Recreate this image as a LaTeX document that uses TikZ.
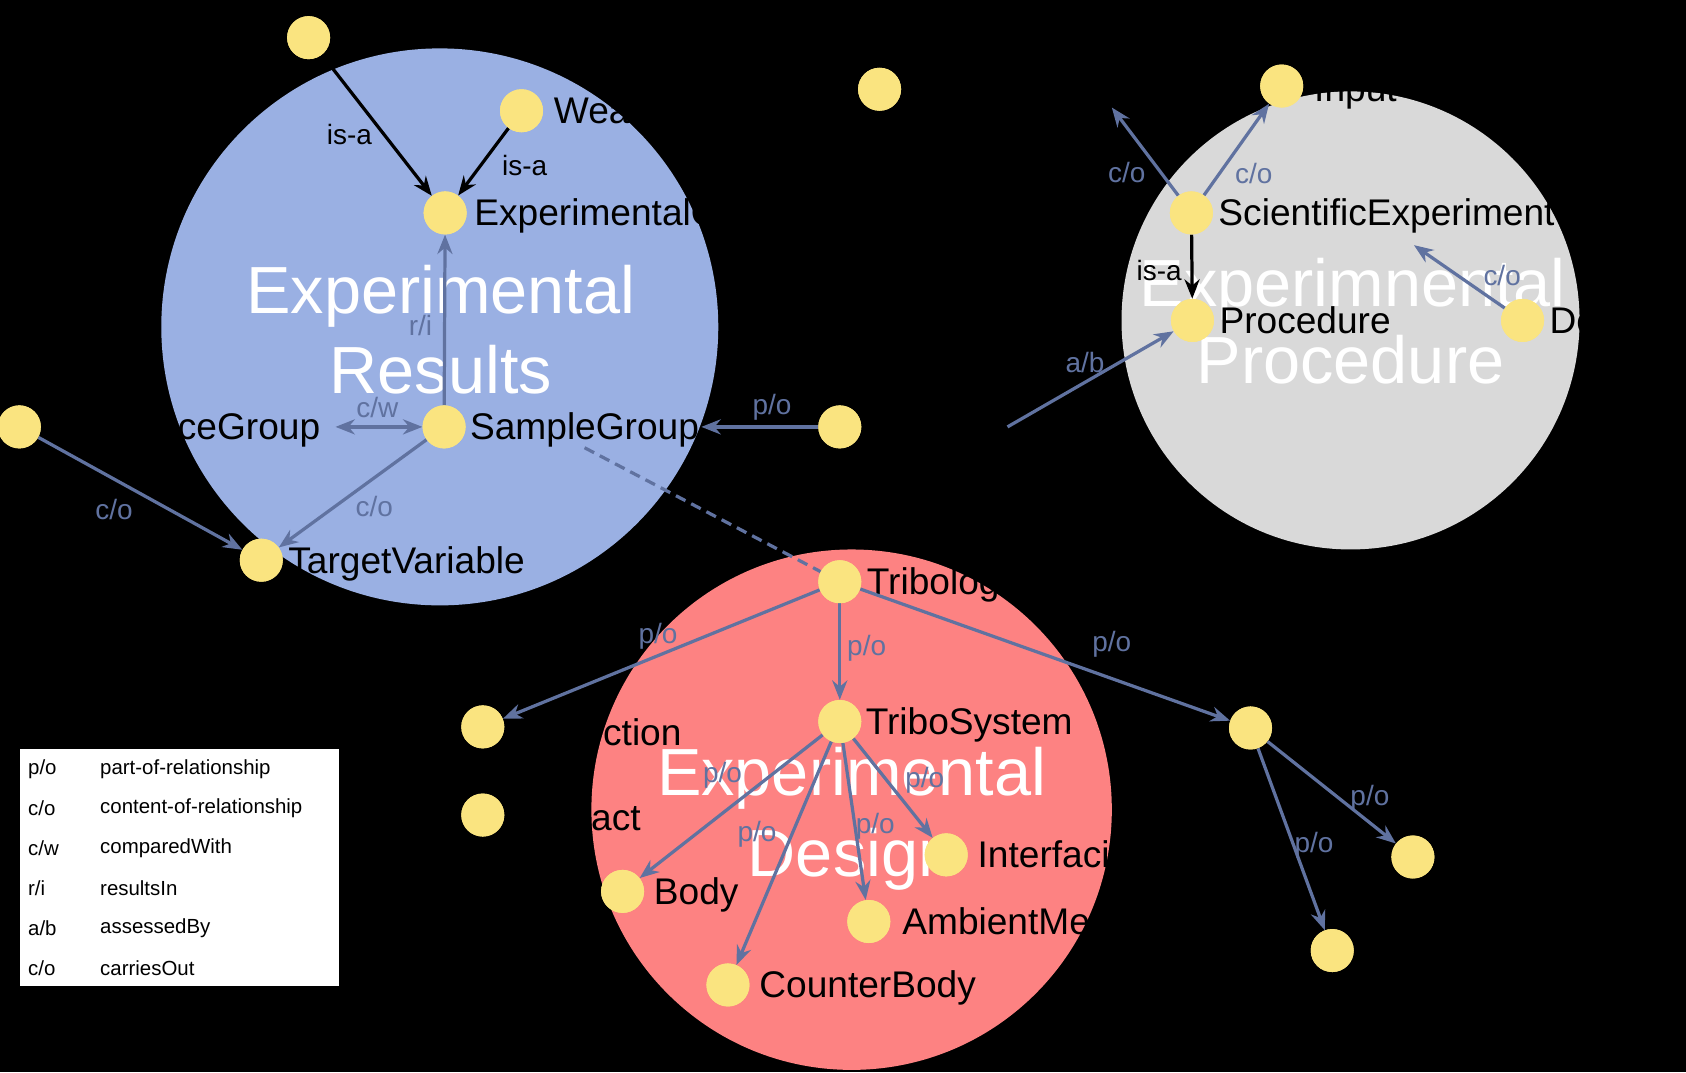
\documentclass[tikz,border=0pt]{standalone}
\usepackage{fontspec}
\setmainfont{Liberation Sans}
\usetikzlibrary{arrows.meta,calc}
\definecolor{cblue}{HTML}{9AB0E3}
\definecolor{cgray}{HTML}{D9D9D9}
\definecolor{cred}{HTML}{FD8282}
\definecolor{cyel}{HTML}{FAE480}
\definecolor{cedge}{HTML}{6072A0}
\tikzset{
  dot/.style={circle,fill=cyel,minimum size=40pt,inner sep=0pt},
  nlab/.style={font=\fontsize{34.5}{40}\selectfont,text=black,inner sep=0pt,anchor=base west},
  big/.style={font=\fontsize{62}{73}\selectfont,text=white,inner sep=0pt,anchor=base},
  rel/.style={draw=cedge,line width=3pt,-{Stealth[length=18pt,width=14pt]}},
  isarel/.style={draw=black,line width=3pt,-{Stealth[length=18pt,width=14pt]}},
  elab/.style={font=\fontsize{26}{30}\selectfont,text=cedge,inner sep=0pt},
  elabk/.style={font=\fontsize{26}{30}\selectfont,text=black,inner sep=0pt},
  legt/.style={font=\fontsize{19}{22}\selectfont,text=black,inner sep=0pt,anchor=west}
}
\begin{document}
\begin{tikzpicture}[x=1pt,y=-1pt]
\fill[black] (0,0) rectangle (1568,997);
\useasboundingbox (0,0) rectangle (1568,997);
% group circles
\fill[cblue] (409,304) circle [radius=259pt];
\fill[cgray] (1256,298) circle [radius=213pt];
\fill[cred] (792,753) circle [radius=242pt];
% big titles
\node[big] (bR1) at (410,292) {Experimental};
\node[big] (bR2) at (410,366) {Results};
\node[big] (bP1) at (1258,285) {Experimnental};
\node[big] (bP2) at (1256,357) {Procedure};
\node[big] (bD1) at (792,740) {Experimental};
\node[big] (bD2) at (792,815) {Design};
% nodes
\node[dot] (A) at (287,35) {};
\node[dot] (wr) at (485,103) {};
\node[dot] (eo) at (414,198) {};
\node[dot] (B) at (818,83) {};
\node[dot] (inp) at (1192,80) {};
\node[dot] (se) at (1108,198) {};
\node[dot] (proc) at (1109,298) {};
\node[dot] (de) at (1416,298) {};
\node[dot] (rg) at (18,397) {};
\node[dot] (sg) at (413,397) {};
\node[dot] (pn) at (781,397) {};
\node[dot] (tv) at (243,521) {};
\node[dot] (trib) at (781,541) {};
\node[dot] (nf) at (449,676) {};
\node[dot] (nc) at (449,758) {};
\node[dot] (ts) at (781,671) {};
\node[dot] (nr) at (1163,677) {};
\node[dot] (nr1) at (1314,797) {};
\node[dot] (nr2) at (1239,884) {};
\node[dot] (body) at (579,829) {};
\node[dot] (cb) at (677,916) {};
\node[dot] (amb) at (808,857) {};
\node[dot] (intf) at (880,795) {};
% node labels
\node[nlab] (wrL) at (515,115) {Wear};
\node[nlab] (eoL) at (441,210) {ExperimentalO};
\node[nlab] (inpL) at (1222,94) {Input};
\node[nlab] (seL) at (1133,210) {ScientificExperiment};
\node[nlab] (procL) at (1134,310) {Procedure};
\node[nlab] (deL) at (1441,310) {De};
\node[nlab,anchor=base east] (rgL) at (298,409) {ceGroup};
\node[nlab] (sgL) at (437,409) {SampleGroup};
\node[nlab] (tvL) at (268,533) {TargetVariable};
\node[nlab] (tribL) at (806,553) {Tribolog};
\node[nlab,anchor=base east] (nfL) at (634,693) {ction};
\node[nlab,anchor=base east] (ncL) at (596,772) {act};
\node[nlab] (tsL) at (805,683) {TriboSystem};
\node[nlab] (bodyL) at (608,841) {Body};
\node[nlab] (cbL) at (706,928) {CounterBody};
\node[nlab] (ambL) at (839,869) {AmbientMe};
\node[nlab] (intfL) at (909,807) {Interfaci};
% free ends
\coordinate (abS) at (937,397);
\coordinate (coE) at (1034,100);
\coordinate (seT) at (1315,228);
\coordinate (cwE) at ($(rgL.east |- sg)+(14,0)$);
\coordinate (poE) at ($(sgL.east |- sg)+(2,0)$);
% connectors
\draw[isarel,shorten <=16pt] (A) -- (eo);
\draw[isarel] (wr) -- (eo);
\draw[rel] (sg) -- (eo);
\draw[rel,{Stealth[length=18pt,width=14pt]}-{Stealth[length=18pt,width=14pt]}] (cwE) -- (sg);
\draw[rel] (sg) -- (tv);
\draw[rel] (rg) -- (tv);
\draw[rel] (pn) -- (poE);
\draw[draw=cedge,line width=3pt,dash pattern=on 10pt off 6pt] (sgL.south) -- (trib);
\draw[rel] (abS) -- (proc);
\draw[isarel] (se) -- (proc);
\draw[rel] (se) -- (inp);
\draw[rel] (se) -- (coE);
\draw[rel] (de) -- (seT);
\draw[rel] (trib) -- (nf);
\draw[rel] (trib) -- (ts);
\draw[rel] (trib) -- (nr);
\draw[rel] (nr) -- (nr1);
\draw[rel] (nr) -- (nr2);
\draw[rel] (ts) -- (body);
\draw[rel] (ts) -- (cb);
\draw[rel] (ts) -- (amb);
\draw[rel] (ts) -- (intf);
% redraw nodes over connectors
\foreach \n in {A,wr,eo,B,inp,se,proc,de,rg,sg,pn,tv,trib,nf,nc,ts,nr,nr1,nr2,body,cb,amb,intf}{
  \fill[cyel] (\n.center) circle [radius=20pt];
}
% connector labels
\node[elabk] (l1) at (325,125) {is-a};
\node[elabk] (l2) at (488,154) {is-a};
\node[elab] (l3) at (391,303) {r/i};
\node[elab] (l4) at (351,379) {c/w};
\node[elab] (l5) at (348,471) {c/o};
\node[elab] (l6) at (106,474) {c/o};
\node[elab] (l7) at (718,379) {p/o};
\node[elab] (l8) at (1009,337) {a/b};
\node[elabk] (l9) at (1078,252) {is-a};
\node[elab] (l10) at (1048,160) {c/o};
\node[elab] (l11) at (1166,161) {c/o};
\node[elab] (l12) at (1397,256) {c/o};
\node[elab] (l13) at (612,592) {p/o};
\node[elab] (l14) at (806,603) {p/o};
\node[elab] (l15) at (1034,599) {p/o};
\node[elab] (l16) at (1274,742) {p/o};
\node[elab] (l17) at (1222,786) {p/o};
\node[elab] (l18) at (672,721) {p/o};
\node[elab] (l19) at (704,776) {p/o};
\node[elab] (l20) at (814,768) {p/o};
\node[elab] (l21) at (860,726) {p/o};
% legend
\node[fill=white,minimum width=297pt,minimum height=221pt,inner sep=0pt,anchor=north west] (leg) at (18,696) {};
\node[legt] (a1) at (26,715) {p/o};  \node[legt] (d1) at (93,715) {part-of-relationship};
\node[legt] (a2) at (26,752) {c/o};  \node[legt] (d2) at (93,752) {content-of-relationship};
\node[legt] (a3) at (26,789) {c/w};  \node[legt] (d3) at (93,789) {comparedWith};
\node[legt] (a4) at (26,826) {r/i};  \node[legt] (d4) at (93,826) {resultsIn};
\node[legt] (a5) at (26,863) {a/b};  \node[legt] (d5) at (93,863) {assessedBy};
\node[legt] (a6) at (26,900) {c/o};  \node[legt] (d6) at (93,900) {carriesOut};
\end{tikzpicture}
\end{document}
